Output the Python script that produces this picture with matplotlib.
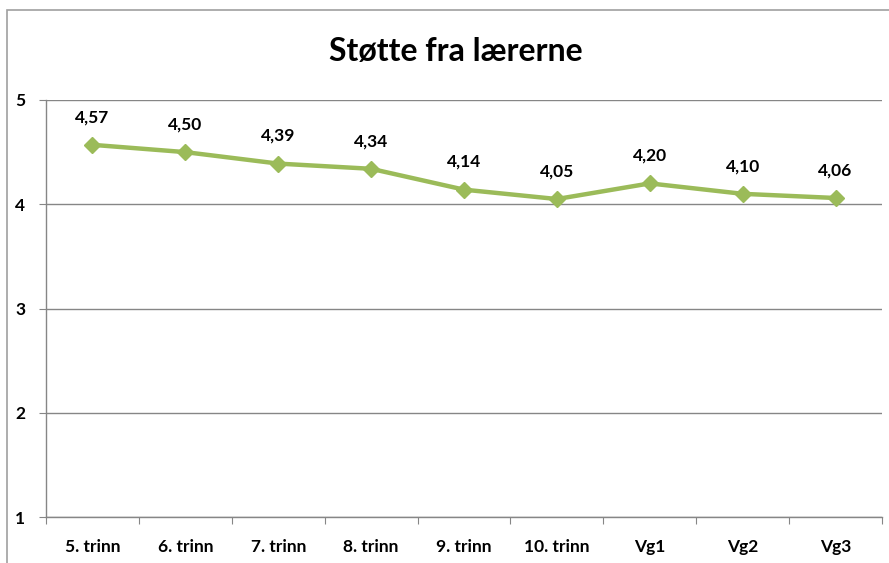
import matplotlib
matplotlib.use("Agg")
import matplotlib.pyplot as plt
from matplotlib.patches import Rectangle

categories = ["5. trinn", "6. trinn", "7. trinn", "8. trinn", "9. trinn", "10. trinn", "Vg1", "Vg2", "Vg3"]
values = [4.57, 4.50, 4.39, 4.34, 4.14, 4.05, 4.20, 4.10, 4.06]
labels = ["4,57", "4,50", "4,39", "4,34", "4,14", "4,05", "4,20", "4,10", "4,06"]
yticks = [1, 2, 3, 4, 5]

plt.rcParams['font.family'] = ['Lato', 'DejaVu Sans']

W, H = 889, 563
fig = plt.figure(figsize=(W/100, H/100), dpi=100)
fig.patches.append(Rectangle((7/W, -0.1), 1.2, 1 - 10/H + 0.1, transform=fig.transFigure,
                             fill=False, edgecolor='#a0a0a0', linewidth=1.2))

ax = fig.add_axes([46/W, 46/H, (882-46)/W, (517-100)/H])
x = list(range(len(categories)))
ax.plot(x, values, color='#9BBB59', linewidth=3.2, marker='D', markersize=8.5, zorder=3)
for xi, v, lab in zip(x, values, labels):
    ax.annotate(lab, (xi, v), xytext=(0, 20), textcoords='offset points',
                ha='center', va='center', fontsize=12.5, fontweight='bold')

ax.set_xlim(-0.5, len(categories) - 0.5)
ax.set_ylim(1, 5)
ax.set_yticks(yticks)
ax.set_yticklabels([str(t) for t in yticks], fontsize=12.5, fontweight='bold')
ax.set_xticks([i - 0.5 for i in range(len(categories) + 1)], minor=False)
ax.set_xticklabels([])
ax.set_xticks(x, minor=True)
ax.set_xticklabels(categories, minor=True, fontsize=12.5, fontweight='bold')
ax.tick_params(axis='x', which='major', length=5, color='#868686', direction='out')
ax.tick_params(axis='x', which='minor', length=0, pad=16)
ax.tick_params(axis='y', length=5, color='#868686', direction='out', pad=10)
ax.grid(axis='y', color='#868686', linewidth=1)
ax.set_axisbelow(True)
for s in ['top', 'right']:
    ax.spines[s].set_visible(False)
for s in ['left', 'bottom']:
    ax.spines[s].set_color('#868686')
    ax.spines[s].set_linewidth(1)

fig.text(456/W, 1 - 51/H, "Støtte fra lærerne", ha='center', va='center',
         fontsize=23, fontweight='bold')

fig.savefig("out.png", dpi=100)
